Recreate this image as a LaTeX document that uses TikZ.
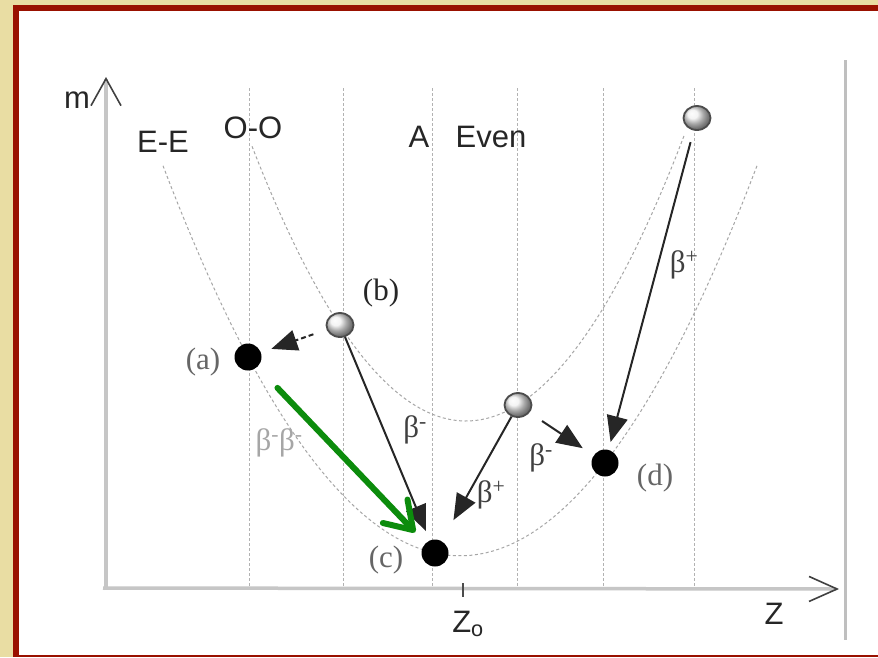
\documentclass[tikz,border=0pt]{standalone}
\usepackage{fontspec}
\setmainfont{Liberation Serif}
\setsansfont{Liberation Sans}
\usetikzlibrary{arrows.meta,shapes.geometric}

\definecolor{bgbeige}{RGB}{233,221,163}
\definecolor{framered}{RGB}{153,17,0}
\definecolor{arrgreen}{RGB}{12,140,12}

\tikzset{
  blackdot/.style={circle, fill=black, minimum size=27pt, inner sep=0pt},
  grayball/.style={ellipse, draw=black!70, line width=1.8pt, ball color=gray!12,
    minimum width=27pt, minimum height=24pt, inner sep=0pt},
  sanslab/.style={font=\sffamily\fontsize{31}{31}\selectfont, text=black!85},
  serlab/.style={font=\fontsize{31}{31}\selectfont, text=black!60},
  betalab/.style={font=\fontsize{31}{31}\selectfont, text=black!75},
  vline/.style={gray!60, line width=1pt, dash pattern=on 3pt off 2pt},
  parab/.style={gray!70, line width=1pt, dash pattern=on 3pt off 2.5pt},
  axisline/.style={gray!45, line width=3.5pt},
  decay/.style={black!85, line width=2pt, -{Triangle[length=26pt,width=21pt]}},
}

\begin{document}
\begin{tikzpicture}[x=1pt, y=-1pt]

\useasboundingbox (0,0) rectangle (878,657);

% Frame
\fill[bgbeige] (0,0) rectangle (878,657);
\fill[framered] (13,5) rectangle (878,657);
\fill[white] (19,11) rectangle (878,655);

% Vertical guide lines
\foreach \x in {249,343,432,517,603,694} {
    \draw[vline] (\x,88) -- (\x,588);
}

% Axes
\coordinate (origin) at (103,588);
\coordinate (mtop) at (106,77);
\coordinate (zend) at (839,589);
\draw[axisline, -{Straight Barb[length=27pt,width=30pt,line width=1.6pt,color=black!75]}] (106,590) -- (mtop);
\draw[axisline, -{Straight Barb[length=28pt,width=25pt,line width=1.6pt,color=black!75]}] (origin) -- (zend);
\draw[gray!50, line width=3pt] (845,60) -- (845,640);

% Z0 tick
\draw[black!70, line width=1.5pt] (463,583) -- (463,597);

% Axis labels
\node[sanslab] (labm) at (77,100) {m};
\node[sanslab] (labz) at (774,614) {Z};
\node[sanslab] (labz0) at (468,624) {Z\textsubscript{o}};

% Mass parabolas
\draw[parab] plot[domain=163:757, samples=80] (\x, {555.8-(0.0665*(\x-460))^2});
\draw[parab] plot[domain=252:684, samples=80] (\x, {421-(0.07746*(\x-466))^2});

% Curve labels
\node[sanslab] (labee) at (163,142) {E-E};
\node[sanslab] (laboo) at (253,128) {O-O};
\node[sanslab] (labA) at (419,137) {A};
\node[sanslab] (labeven) at (491,137) {Even};

% Nuclei
\node[blackdot] (dotA) at (248,357) {};
\node[blackdot] (dotC) at (435,553) {};
\node[blackdot] (dotD) at (605,463) {};
\node[grayball] (ballB) at (340,325) {};
\node[grayball] (ballM) at (518,405) {};
\node[grayball] (ballT) at (697,118) {};

\node[serlab] (labdA) at (203,362) {(a)};
\node[serlab, text=black!85] (labdB) at (381,293) {(b)};
\node[serlab] (labdC) at (386,560) {(c)};
\node[serlab] (labdD) at (655,478) {(d)};

% Decays
\draw[decay, dash pattern=on 5pt off 3pt, shorten <=14pt, shorten >=11pt] (ballB) -- (dotA);
\draw[decay, shorten >=10pt] (ballB) -- (dotC);
\draw[decay, shorten >=24pt] (ballM) -- (dotC);
\draw[decay, shorten <=15pt, shorten >=13pt] (ballM) -- (dotD);
\draw[decay, shorten <=12pt, shorten >=8pt] (ballT) -- (dotD);

\node[betalab] (betaBC) at (415,430) {β\textsuperscript{-}};
\node[betalab] (betaMC) at (491,495) {β\textsuperscript{+}};
\node[betalab] (betaMD) at (541,458) {β\textsuperscript{-}};
\node[betalab] (betaTD) at (684,265) {β\textsuperscript{+}};
\node[betalab, text=black!35] (betaAC) at (279,443) {β\textsuperscript{-}β\textsuperscript{-}};

% Double beta
\draw[arrgreen, line width=6pt, line cap=round, -{Straight Barb[length=26pt,width=34pt,round]}, shorten <=29pt, shorten >=15pt] (dotA) -- (dotC);

\end{tikzpicture}
\end{document}
